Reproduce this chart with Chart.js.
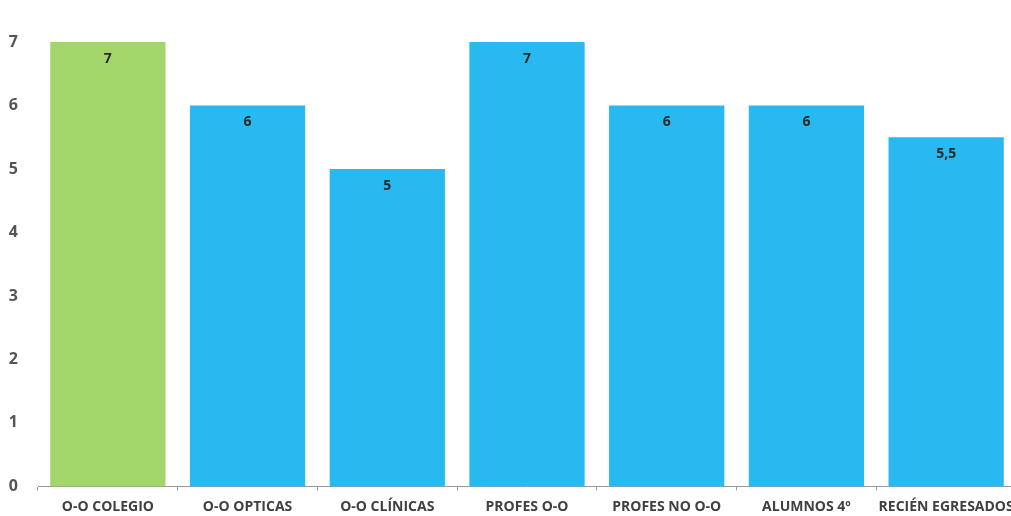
<!DOCTYPE html>
<html>
<head>
<meta charset="utf-8">
<script src="https://cdn.jsdelivr.net/npm/chart.js@4"></script>
<style>
  html, body { margin: 0; padding: 0; background: #fff; overflow: hidden; }
  #wrap { width: 1016px; height: 516px; }
</style>
</head>
<body>
<div id="wrap"><canvas id="barChart"></canvas></div>
<script>
// data
const categories = ['O-O COLEGIO', 'O-O OPTICAS', 'O-O CLÍNICAS', 'PROFES O-O', 'PROFES NO O-O', 'ALUMNOS 4º', 'RECIÉN EGRESADOS'];
const values = [7, 6, 5, 7, 6, 6, 5.5];
const barColors = ['#a2d66a', '#27b9ef', '#27b9ef', '#27b9ef', '#27b9ef', '#27b9ef', '#27b9ef'];
const yTicks = [0, 1, 2, 3, 4, 5, 6, 7];

// value labels inside the top of every bar
const barLabels = {
  id: 'barLabels',
  afterDatasetsDraw(chart) {
    const ctx = chart.ctx;
    const meta = chart.getDatasetMeta(0);
    ctx.save();
    ctx.font = 'bold 14px "Open Sans", sans-serif';
    ctx.fillStyle = '#2b2b2b';
    ctx.textAlign = 'center';
    ctx.textBaseline = 'middle';
    meta.data.forEach((bar, i) => {
      ctx.fillText(String(values[i]).replace('.', ','), bar.x, bar.y + 17);
    });
    ctx.restore();
  }
};

var ctx = document.getElementById('barChart').getContext('2d');
new Chart(ctx, {
  type: 'bar',
  data: {
    labels: categories,
    datasets: [{
      data: values,
      backgroundColor: barColors,
      categoryPercentage: 1,
      barPercentage: 0.825
    }]
  },
  options: {
    responsive: true,
    maintainAspectRatio: false,
    animation: false,
    layout: { padding: { top: 42, right: 0, left: 0, bottom: 0 } },
    plugins: {
      legend: { display: false },
      tooltip: { enabled: false }
    },
    scales: {
      x: {
        afterFit(scale) { scale.height = 27; scale.paddingRight = 0; scale.paddingLeft = 0; },
        grid: { display: true, drawOnChartArea: false, tickLength: 4, color: '#9a9a9a', offset: true },
        border: { display: true, color: '#9a9a9a', width: 1 },
        ticks: {
          autoSkip: false,
          maxRotation: 0,
          padding: 8,
          color: '#404040',
          font: { family: '"Open Sans", sans-serif', size: 14, weight: 'bold' }
        }
      },
      y: {
        min: 0,
        max: 7,
        afterBuildTicks(scale) { scale.ticks = yTicks.map(v => ({ value: v })); },
        afterFit(scale) { scale.width = 38; },
        grid: { display: false, drawTicks: false },
        border: { display: false },
        ticks: {
          padding: 20,
          color: '#555555',
          font: { family: '"Open Sans", sans-serif', size: 16, weight: 'bold' }
        }
      }
    }
  },
  plugins: [barLabels]
});
</script>
</body>
</html>
